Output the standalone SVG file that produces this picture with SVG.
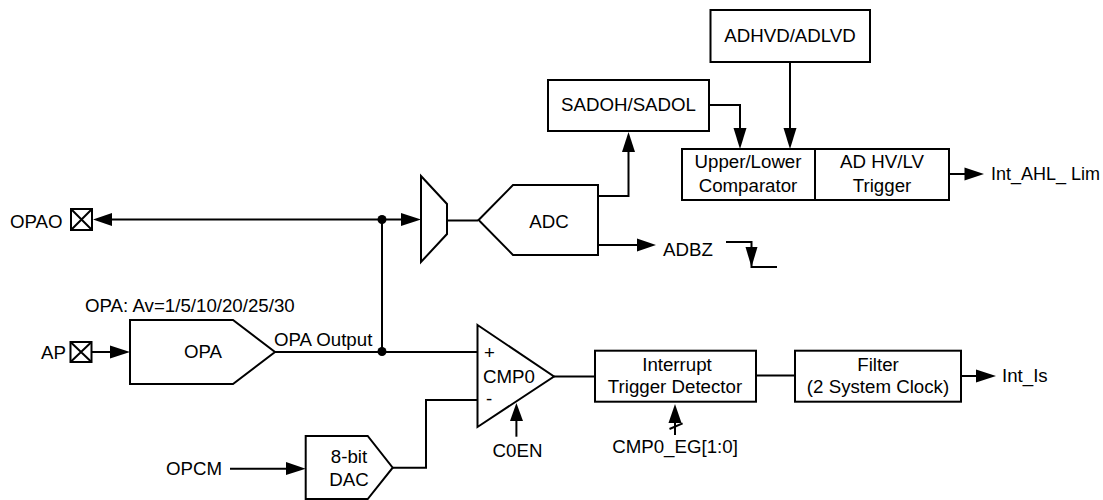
<svg xmlns="http://www.w3.org/2000/svg" width="1103" height="500" viewBox="0 0 1103 500">
<style>
.s{fill:#fff;stroke:#000;stroke-width:2}
.c{fill:none;stroke:#000;stroke-width:2}
.h{fill:#000;stroke:none}
text{font-family:"Liberation Sans",Arial,sans-serif;font-size:18.700px;fill:#000}
.m{text-anchor:middle}
</style>
<rect width="1103" height="500" fill="#fff"/>
<g id="connectors">
<path class="c" d="M108 219.500H405"/>
<path class="h" d="M93 219.500L112 213V226Z"/>
<path class="h" d="M421 219.500L401 213V226Z"/>
<circle class="h" cx="382" cy="219.500" r="4.500"/>
<path class="c" d="M382 219.500V352"/>
<circle class="h" cx="382" cy="351.500" r="4.500"/>
<path class="c" d="M447 220.500H478"/>
<path class="c" d="M92 352H114"/>
<path class="h" d="M130 352L110 345.500V358.500Z"/>
<path class="c" d="M275 352H477"/>
<path class="c" d="M598 196H628.500V148"/>
<path class="h" d="M628.500 132L622 152H635Z"/>
<path class="c" d="M598 245H640"/>
<path class="h" d="M656 245L637 238.500V251.500Z"/>
<path class="c" d="M709 105H740V132"/>
<path class="h" d="M740 149L733.500 128H746.500Z"/>
<path class="c" d="M790 62V132"/>
<path class="h" d="M790 149L783.500 128H796.500Z"/>
<path class="c" d="M949 174H968"/>
<path class="h" d="M984 174L964.500 167.500V180.500Z"/>
<path class="c" d="M726 242H751.500V267H777"/>
<path class="h" d="M751.500 267L745.500 247H757.500Z"/>
<path class="c" d="M554 376.500H595"/>
<path class="c" d="M756 375.500H795"/>
<path class="c" d="M961 376H980"/>
<path class="h" d="M996 376L976 369.500V382.500Z"/>
<path class="c" d="M516.400 436.700V418"/>
<path class="h" d="M516.400 403L510 421H523Z"/>
<path class="c" d="M675 435V420"/>
<path class="h" d="M675 404L668.500 423H681.500Z"/>
<path class="c" d="M669.500 429L682.600 423.300"/>
<path class="c" d="M392.700 467.700H426V400H477"/>
<path class="c" d="M230 468.700H290"/>
<path class="h" d="M305.700 468.700L286 462V475Z"/>
</g>
<g id="opao"><rect class="s" x="71" y="209" width="21" height="21"/><path class="c" d="M71 209L92 230M92 209L71 230"/><text x="10" y="228">OPAO</text></g>
<g id="ap"><rect class="s" x="70.500" y="342" width="21" height="20"/><path class="c" d="M70.500 342L91.500 362M91.500 342L70.500 362"/><text x="41" y="359">AP</text></g>
<g id="mux"><path class="s" d="M421 176L447 204V234L421 262Z"/></g>
<g id="adc"><path class="s" d="M478.600 220L513 185H598V255H513Z"/><text class="m" x="549" y="228">ADC</text></g>
<g id="sadoh"><rect class="s" x="548" y="80" width="161" height="51"/><text class="m" x="628.500" y="110.700">SADOH/SADOL</text></g>
<g id="adhvd"><rect class="s" x="710.500" y="10" width="159.500" height="52"/><text class="m" x="790" y="41.700">ADHVD/ADLVD</text></g>
<g id="comparator"><rect class="s" x="682" y="149" width="133" height="51"/><text class="m" x="748" y="168">Upper/Lower</text><text class="m" x="748" y="192">Comparator</text></g>
<g id="trigger"><rect class="s" x="815" y="149" width="134" height="51"/><text class="m" x="882" y="168">AD HV/LV</text><text class="m" x="882" y="192">Trigger</text></g>
<g id="opa"><path class="s" d="M130 320H233L275 352L233 384H130Z"/><text class="m" x="203" y="358">OPA</text></g>
<g id="cmp0"><path class="s" d="M477.500 325L554 376.500L477.500 427Z"/><text x="484" y="359">+</text><text x="486" y="405">-</text><text class="m" x="509" y="383">CMP0</text></g>
<g id="dac"><path class="s" d="M305.700 499V436H367.700L392.700 467.700L367.700 499Z"/><text class="m" x="349" y="463">8-bit</text><text class="m" x="349" y="486">DAC</text></g>
<g id="interrupt"><rect class="s" x="595" y="350.700" width="161" height="51"/><text class="m" x="677" y="371">Interrupt</text><text class="m" x="675" y="393">Trigger Detector</text></g>
<g id="filter"><rect class="s" x="795" y="350.700" width="166" height="51"/><text class="m" x="878" y="371">Filter</text><text class="m" x="878" y="393">(2 System Clock)</text></g>
<g id="labels">
<text x="85" y="312">OPA: Av=1/5/10/20/25/30</text>
<text x="274" y="346">OPA Output</text>
<text x="166" y="475">OPCM</text>
<text x="663" y="256">ADBZ</text>
<text x="991" y="180" textLength="109" lengthAdjust="spacingAndGlyphs">Int_AHL_ Lim</text>
<text x="1002" y="382">Int_Is</text>
<text class="m" x="517.500" y="457">C0EN</text>
<text class="m" x="675" y="453">CMP0_EG[1:0]</text>
</g>
</svg>
